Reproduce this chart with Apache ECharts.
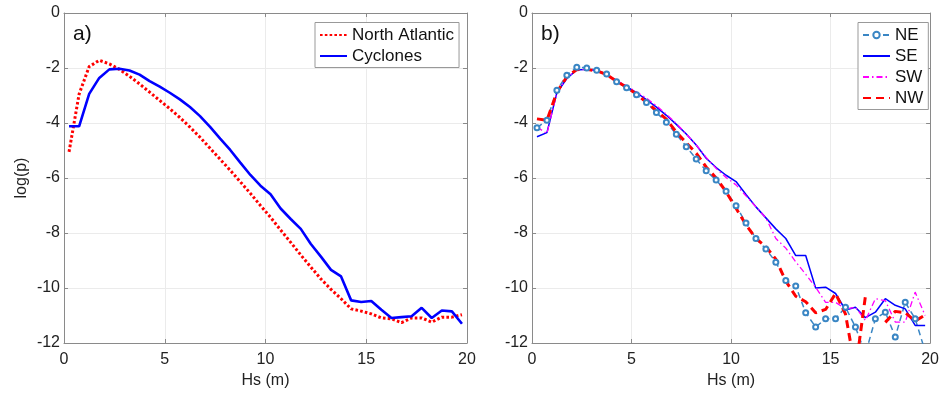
<!DOCTYPE html>
<html>
<head>
<meta charset="utf-8">
<script src="https://cdn.jsdelivr.net/npm/echarts@6/dist/echarts.min.js"></script>
<style>
html,body{margin:0;padding:0;background:#fff;}
#c{width:942px;height:394px;}
</style>
</head>
<body>
<div id="c"></div>
<script>
// Hs bin centres (m)
const hs = [0.25,0.75,1.25,1.75,2.25,2.75,3.25,3.75,4.25,4.75,5.25,5.75,6.25,6.75,7.25,7.75,8.25,8.75,9.25,9.75,
            10.25,10.75,11.25,11.75,12.25,12.75,13.25,13.75,14.25,14.75,15.25,15.75,16.25,16.75,17.25,17.75,18.25,18.75,19.25,19.75];

// panel a)
const northAtlantic = [-5.05,-2.95,-1.95,-1.72,-1.85,-2.05,-2.3,-2.58,-2.88,-3.18,-3.48,-3.8,-4.15,-4.52,-4.92,-5.32,-5.72,-6.14,-6.56,-7.0,
                       -7.43,-7.89,-8.34,-8.8,-9.24,-9.67,-10.05,-10.39,-10.76,-10.84,-10.94,-11.09,-11.12,-11.26,-11.09,-11.09,-11.24,-11.06,-11.06,-10.97];
const cyclones = [-4.12,-4.12,-2.94,-2.36,-2.05,-2.03,-2.09,-2.24,-2.48,-2.68,-2.90,-3.14,-3.42,-3.75,-4.14,-4.57,-4.98,-5.44,-5.89,-6.28,
                  -6.59,-7.11,-7.49,-7.85,-8.40,-8.86,-9.34,-9.58,-10.45,-10.51,-10.47,-10.79,-11.09,-11.06,-11.03,-10.72,-11.09,-10.82,-10.85,-11.3];

// panel b)
const ne = [-4.17,-3.90,-2.81,-2.26,-1.97,-2.0,-2.08,-2.22,-2.5,-2.72,-2.97,-3.25,-3.62,-3.97,-4.41,-4.86,-5.31,-5.74,-6.07,-6.48,
            -7.01,-7.64,-8.2,-8.58,-9.06,-9.73,-9.93,-10.9,-11.42,-11.12,-11.12,-10.70,-11.42,-12.4,-11.12,-10.88,-11.78,-10.52,-11.12,-12.3];
const se = [-4.5,-4.35,-2.9,-2.38,-2.07,-2.05,-2.1,-2.25,-2.47,-2.68,-2.9,-3.15,-3.42,-3.72,-4.05,-4.4,-4.8,-5.28,-5.62,-5.9,
            -6.13,-6.6,-7.05,-7.45,-7.85,-8.2,-8.82,-8.82,-10.0,-9.97,-10.2,-10.8,-10.7,-11.08,-10.88,-10.39,-10.63,-10.76,-11.36,-11.36];
const sw = [-4.15,-4.38,-2.9,-2.35,-2.07,-2.05,-2.1,-2.24,-2.45,-2.65,-2.87,-3.1,-3.37,-3.68,-4.02,-4.4,-4.8,-5.25,-5.65,-5.98,
            -6.25,-6.65,-7.05,-7.45,-8.2,-8.55,-9.05,-9.5,-9.97,-10.52,-10.52,-10.76,-10.7,-11.18,-10.39,-10.46,-11.24,-11.24,-10.15,-11.0];
const nw = [-3.85,-3.9,-2.88,-2.32,-2.06,-2.05,-2.1,-2.24,-2.48,-2.7,-2.95,-3.25,-3.55,-3.86,-4.33,-4.72,-5.1,-5.6,-6.0,-6.5,
            -7.1,-7.7,-8.2,-8.5,-8.95,-9.75,-10.3,-10.5,-10.9,-10.78,-10.2,-10.95,-13.0,-10.3,null,-11.25,-10.85,-10.9,-11.2,-10.98];

const xTicks = [0,5,10,15,20];
const yTicks = [0,-2,-4,-6,-8,-10,-12];

const FONT = '"Liberation Sans", Arial, Helvetica, sans-serif';
const AXC = '#8a8a8a';
const pair = (ys) => hs.map((x, i) => [x, ys[i]]);

function xAx(gi, top) {
  return {
    type: 'value', gridIndex: gi, position: top ? 'top' : 'bottom',
    min: xTicks[0], max: xTicks[xTicks.length - 1], interval: xTicks[1] - xTicks[0],
    name: top ? '' : 'Hs (m)', nameLocation: 'middle', nameGap: 30,
    nameTextStyle: {fontFamily: FONT, fontSize: 16, color: '#222'},
    axisLine: {show: true, onZero: false, lineStyle: {color: AXC, width: 1}},
    axisTick: {show: true, inside: true, length: 4, lineStyle: {color: AXC}},
    axisLabel: {show: !top, margin: 9, fontFamily: FONT, fontSize: 16, color: '#222'},
    splitLine: {show: !top, lineStyle: {color: '#ebebeb', width: 1}}
  };
}
function yAx(gi, right, withName) {
  return {
    type: 'value', gridIndex: gi, position: right ? 'right' : 'left',
    min: yTicks[yTicks.length - 1], max: yTicks[0], interval: yTicks[0] - yTicks[1],
    name: withName ? 'log(p)' : '', nameLocation: 'middle', nameGap: 34,
    nameTextStyle: {fontFamily: FONT, fontSize: 16, color: '#222'},
    axisLine: {show: true, onZero: false, lineStyle: {color: AXC, width: 1}},
    axisTick: {show: true, inside: true, length: 4, lineStyle: {color: AXC}},
    axisLabel: {show: !right, margin: 4, fontFamily: FONT, fontSize: 16, color: '#222'},
    splitLine: {show: !right, lineStyle: {color: '#ebebeb', width: 1}}
  };
}
const noMark = {opacity: 0};

const chart = echarts.init(document.getElementById('c'), null, {renderer: 'canvas'});
chart.setOption({
  animation: false,
  backgroundColor: '#fff',
  grid: [
    {left: 64, top: 13, width: 403, height: 331, show: false},
    {left: 532, top: 13, width: 403, height: 331, show: false}
  ],
  xAxis: [xAx(0, false), xAx(0, true), xAx(1, false), xAx(1, true)],
  yAxis: [yAx(0, false, true), yAx(0, true, false), yAx(1, false, false), yAx(1, true, false)],
  graphic: [
    {type: 'text', left: 73, top: 24, style: {text: 'a)', font: '21px ' + FONT, fill: '#111'}},
    {type: 'text', left: 541, top: 24, style: {text: 'b)', font: '21px ' + FONT, fill: '#111'}}
  ],
  legend: [
    {
      left: 315, top: 22.5, orient: 'vertical', itemWidth: 27, itemHeight: 8, itemGap: 4,
      padding: [4, 5, 3, 4], borderColor: '#999', borderWidth: 1, backgroundColor: '#fff',
      textStyle: {fontFamily: FONT, fontSize: 17, color: '#111'},
      data: [{name: 'North Atlantic', itemStyle: noMark}, {name: 'Cyclones', itemStyle: noMark}]
    },
    {
      left: 858, top: 22.5, orient: 'vertical', itemWidth: 27, itemHeight: 8, itemGap: 4,
      padding: [4, 5, 3, 4], borderColor: '#999', borderWidth: 1, backgroundColor: '#fff',
      textStyle: {fontFamily: FONT, fontSize: 17, color: '#111'},
      data: ['NE', {name: 'SE', itemStyle: noMark}, {name: 'SW', itemStyle: noMark}, {name: 'NW', itemStyle: noMark}]
    }
  ],
  series: [
    {name: 'North Atlantic', type: 'line', xAxisIndex: 0, yAxisIndex: 0, data: pair(northAtlantic),
     showSymbol: false, symbol: 'none', color: '#ff0000',
     lineStyle: {color: '#ff0000', width: 3, type: [2.6, 2.2]}},
    {name: 'Cyclones', type: 'line', xAxisIndex: 0, yAxisIndex: 0, data: pair(cyclones),
     showSymbol: false, symbol: 'none', color: '#0000ff',
     lineStyle: {color: '#0000ff', width: 2.6}},
    {name: 'NE', type: 'line', xAxisIndex: 2, yAxisIndex: 2, data: pair(ne),
     symbol: 'emptyCircle', symbolSize: 5, color: '#3a86c4',
     itemStyle: {color: '#3a86c4', borderWidth: 1.3, borderColor: '#3a86c4'},
     lineStyle: {color: '#3a86c4', width: 1.5, type: [6, 4]}},
    {name: 'SE', type: 'line', xAxisIndex: 2, yAxisIndex: 2, data: pair(se),
     showSymbol: false, symbol: 'none', color: '#0000ff',
     lineStyle: {color: '#0000ff', width: 1.5}},
    {name: 'SW', type: 'line', xAxisIndex: 2, yAxisIndex: 2, data: pair(sw),
     showSymbol: false, symbol: 'none', color: '#ff00ff',
     lineStyle: {color: '#ff00ff', width: 1.3, type: [6, 3, 1.5, 3]}},
    {name: 'NW', type: 'line', xAxisIndex: 2, yAxisIndex: 2, data: pair(nw),
     showSymbol: false, symbol: 'none', color: '#ff0000', connectNulls: false,
     lineStyle: {color: '#ff0000', width: 3, type: [8, 5]}}
  ]
});
</script>
</body>
</html>
